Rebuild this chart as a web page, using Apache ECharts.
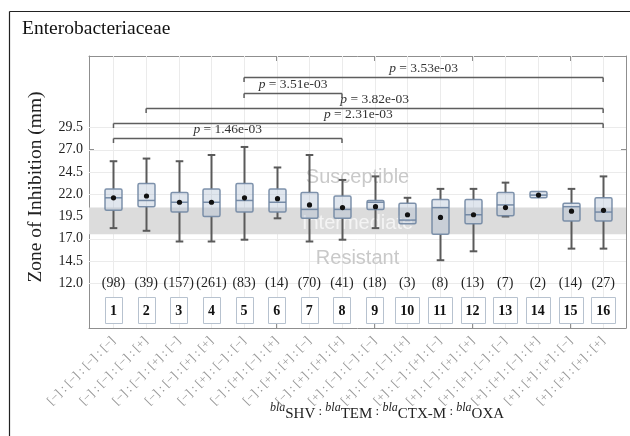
<!DOCTYPE html>
<html>
<head>
<meta charset="utf-8">
<script src="https://cdn.jsdelivr.net/npm/echarts@6/dist/echarts.min.js"></script>
<style>
  html, body { margin: 0; padding: 0; background: #fff; }
  #chart { width: 630px; height: 436px; }
</style>
</head>
<body>
<div id="chart"></div>
<script>
// Genotype groups (1..16) and their labels blaSHV : blaTEM : blaCTX-M : blaOXA
const categories = [1, 2, 3, 4, 5, 6, 7, 8, 9, 10, 11, 12, 13, 14, 15, 16];
const genotypes = [
  '[−] : [−] : [−] : [−]', '[−] : [−] : [−] : [+]', '[−] : [−] : [+] : [−]', '[−] : [−] : [+] : [+]',
  '[−] : [+] : [−] : [−]', '[−] : [+] : [−] : [+]', '[−] : [+] : [+] : [−]', '[−] : [+] : [+] : [+]',
  '[+] : [−] : [−] : [−]', '[+] : [−] : [−] : [+]', '[+] : [−] : [+] : [−]', '[+] : [−] : [+] : [+]',
  '[+] : [+] : [−] : [−]', '[+] : [+] : [−] : [+]', '[+] : [+] : [+] : [−]', '[+] : [+] : [+] : [+]'
];
const counts = [98, 39, 157, 261, 83, 14, 70, 41, 18, 3, 8, 13, 7, 2, 14, 27];

// Zone of inhibition (mm) summary per group
const whiskerLow  = [18.2, 17.9, 16.7, 16.7, 16.9, 19.3, 16.7, 16.9, 18.2, 18.7, 14.6, 15.6, 19.5, 21.6, 15.9, 15.9];
const quartile1   = [20.2, 20.6, 20.0, 19.5, 20.0, 20.0, 19.3, 19.3, 20.3, 18.7, 17.5, 18.7, 19.6, 21.6, 19.0, 19.0];
const medians     = [21.6, 21.3, 21.1, 21.1, 21.3, 21.1, 20.3, 20.3, 21.1, 19.1, 20.5, 19.7, 20.8, 21.9, 20.6, 20.0];
const quartile3   = [22.6, 23.2, 22.2, 22.6, 23.2, 22.6, 22.2, 21.8, 21.3, 21.0, 21.4, 21.4, 22.2, 22.3, 21.0, 21.6];
const whiskerHigh = [25.7, 26.0, 25.7, 26.4, 27.3, 25.0, 26.4, 23.6, 24.0, 21.6, 22.6, 22.6, 23.3, 22.3, 22.6, 24.0];
const means       = [21.6, 21.8, 21.1, 21.1, 21.6, 21.5, 20.8, 20.5, 20.6, 19.7, 19.4, 19.7, 20.5, 21.9, 20.1, 20.2];

const yTicks = [12.0, 14.5, 17.0, 19.5, 22.0, 24.5, 27.0, 29.5];

// Pairwise comparisons and their p-values
const comparisons = [[1, 8], [1, 16], [2, 16], [5, 8], [5, 16]];
const pValues = ['1.46e-03', '2.31e-03', '3.82e-03', '3.51e-03', '3.53e-03'];

// Intermediate breakpoint band (mm)
const intermediateBand = [17.5, 20.5];

const SERIF = '"Liberation Serif", "DejaVu Serif", serif';
const SANS = '"Liberation Sans", Arial, sans-serif';
const FRAME = '#8f8f8f';
const GRID = '#ebebeb';

const boxData = categories.map((c, i) => [c, whiskerLow[i], quartile1[i], medians[i], quartile3[i], whiskerHigh[i], means[i]]);
const countData = categories.map((c, i) => [c, counts[i]]);
const bracketData = comparisons.map((pair, i) => [pair[0], pair[1], i, pValues[i]]);

function renderBox(params, api) {
  const x = api.value(0);
  const low = api.coord([x, api.value(1)]);
  const q1 = api.coord([x, api.value(2)]);
  const med = api.coord([x, api.value(3)]);
  const q3 = api.coord([x, api.value(4)]);
  const high = api.coord([x, api.value(5)]);
  const mean = api.coord([x, api.value(6)]);
  const cx = Math.round(q1[0]) + 0.5;
  const halfW = 8.5, cap = 3.8;
  const wStyle = { stroke: '#5a5a5a', lineWidth: 2 };
  const children = [];
  if (high[1] < q3[1] - 0.5) {
    children.push({ type: 'line', shape: { x1: cx, y1: q3[1], x2: cx, y2: high[1] }, style: wStyle });
    children.push({ type: 'line', shape: { x1: cx - cap, y1: high[1], x2: cx + cap, y2: high[1] }, style: wStyle });
  }
  if (low[1] > q1[1] + 0.5) {
    children.push({ type: 'line', shape: { x1: cx, y1: q1[1], x2: cx, y2: low[1] }, style: wStyle });
    children.push({ type: 'line', shape: { x1: cx - cap, y1: low[1], x2: cx + cap, y2: low[1] }, style: wStyle });
  }
  children.push({
    type: 'rect',
    shape: { x: cx - halfW, y: q3[1], width: halfW * 2, height: q1[1] - q3[1], r: 1.5 },
    style: { fill: 'rgba(166,183,206,0.35)', stroke: 'rgba(112,134,162,0.9)', lineWidth: 1.5 }
  });
  children.push({
    type: 'line',
    shape: { x1: cx - halfW, y1: med[1], x2: cx + halfW, y2: med[1] },
    style: { stroke: 'rgba(112,134,162,0.95)', lineWidth: 1.5 }
  });
  children.push({ type: 'circle', shape: { cx: cx, cy: mean[1], r: 2.6 }, style: { fill: '#111' } });
  return { type: 'group', children: children };
}

function renderCounts(params, api) {
  const x = api.value(0);
  const n = api.value(1);
  const pc = api.coord([x, 12.0]);
  const pb = api.coord([x, 9.0]);
  const label = String(categories[params.dataIndex]);
  const w = label.length * 7 + 10;
  const h = 26;
  return {
    type: 'group',
    children: [
      { type: 'text', x: pc[0], y: pc[1], style: { text: '(' + n + ')', font: '14px ' + SERIF, fill: '#222', align: 'center', verticalAlign: 'middle' } },
      { type: 'rect', shape: { x: Math.round(pb[0] - w / 2) + 0.5, y: Math.round(pb[1] - h / 2) + 0.5, width: w, height: h }, style: { fill: '#fff', stroke: '#b7c2cf', lineWidth: 1 } },
      { type: 'text', x: pb[0], y: pb[1] + 1, style: { text: label, font: 'bold 14px ' + SERIF, fill: '#111', align: 'center', verticalAlign: 'middle' } }
    ]
  };
}

function renderBracket(params, api) {
  const a = api.value(0), b = api.value(1), level = api.value(2);
  const yv = 28.3 + 1.7 * level;
  const p1 = api.coord([a, yv]);
  const p2 = api.coord([b, yv]);
  const y = Math.round(p1[1]) + 0.5;
  const st = { stroke: '#5e5e5e', lineWidth: 1.5 };
  return {
    type: 'group',
    children: [
      { type: 'line', shape: { x1: p1[0], y1: y, x2: p2[0], y2: y }, style: st },
      { type: 'line', shape: { x1: p1[0], y1: y, x2: p1[0], y2: y + 4.5 }, style: st },
      { type: 'line', shape: { x1: p2[0], y1: y, x2: p2[0], y2: y + 4.5 }, style: st },
      {
        type: 'text', x: (p1[0] + p2[0]) / 2, y: y - 2,
        style: {
          text: '{i|p} = ' + pValues[params.dataIndex],
          font: '13.5px ' + SERIF, fill: '#333', align: 'center', verticalAlign: 'bottom',
          rich: { i: { fontStyle: 'italic', fontFamily: SERIF, fontSize: 13.5, fill: '#333' } }
        }
      }
    ]
  };
}

// Grid lines, the intermediate band and the zone captions, drawn under the boxes
function renderZones(params, api) {
  const cs = params.coordSys;
  const top = api.coord([1, intermediateBand[1]]);
  const bot = api.coord([1, intermediateBand[0]]);
  const cx = cs.x + cs.width / 2;
  const children = [];
  categories.forEach(c => {
    const px = Math.round(api.coord([c, 0])[0]) + 0.5;
    children.push({ type: 'line', shape: { x1: px, y1: cs.y, x2: px, y2: cs.y + cs.height }, style: { stroke: GRID, lineWidth: 1 } });
  });
  yTicks.forEach(t => {
    const py = Math.round(api.coord([1, t])[1]) + 0.5;
    children.push({ type: 'line', shape: { x1: cs.x, y1: py, x2: cs.x + cs.width, y2: py }, style: { stroke: GRID, lineWidth: 1 } });
  });
  children.push({ type: 'rect', shape: { x: cs.x, y: top[1], width: cs.width, height: bot[1] - top[1] }, style: { fill: '#dcdcdc' } });
  const zoneText = (txt, v, color) => ({
    type: 'text', x: cx, y: api.coord([1, v])[1],
    style: { text: txt, font: '20px ' + SANS, fill: color, align: 'center', verticalAlign: 'middle' }
  });
  children.push(zoneText('Susceptible', 23.9, '#c9c9c9'));
  children.push(zoneText('Intermediate', 18.75, '#f4f4f4'));
  children.push(zoneText('Resistant', 14.85, '#c9c9c9'));
  return { type: 'group', children: children };
}

const chart = echarts.init(document.getElementById('chart'), null, { renderer: 'canvas' });

chart.setOption({
  animation: false,
  backgroundColor: '#fff',
  grid: { left: 89, right: 4, top: 56, bottom: 108, containLabel: false },
  xAxis: [
    {
      type: 'value', position: 'bottom', min: 0.25, max: 16.7,
      axisLine: { show: true, lineStyle: { color: FRAME, width: 1 } },
      axisTick: { show: true, inside: true, length: 5, customValues: categories, lineStyle: { color: FRAME } },
      axisLabel: {
        show: true, customValues: categories, rotate: 45, margin: 11,
        formatter: v => genotypes[Math.round(v) - 1] || '',
        fontFamily: SERIF, fontSize: 12.5, color: '#999'
      },
      splitLine: { show: false }
    },
    {
      type: 'value', position: 'top', min: 0.25, max: 16.7,
      axisLine: { show: true, lineStyle: { color: FRAME, width: 1 } },
      axisTick: { show: true, inside: true, length: 5, customValues: categories, lineStyle: { color: FRAME } },
      axisLabel: { show: false },
      splitLine: { show: false }
    }
  ],
  yAxis: [
    {
      type: 'value', position: 'left', min: 7.0, max: 37.5,
      axisLine: { show: true, lineStyle: { color: FRAME, width: 1 } },
      axisTick: { show: true, inside: true, length: 5, customValues: yTicks, lineStyle: { color: FRAME } },
      axisLabel: {
        show: true, customValues: yTicks, margin: 6,
        formatter: v => Number(v).toFixed(1),
        fontFamily: SERIF, fontSize: 14, color: '#222'
      },
      splitLine: { show: false }
    },
    {
      type: 'value', position: 'right', min: 7.0, max: 37.5,
      axisLine: { show: true, lineStyle: { color: FRAME, width: 1 } },
      axisTick: { show: true, inside: true, length: 5, customValues: yTicks, lineStyle: { color: FRAME } },
      axisLabel: { show: false },
      splitLine: { show: false }
    }
  ],
  series: [
    { type: 'custom', name: 'zones', xAxisIndex: 0, yAxisIndex: 0, z: 1, silent: true, data: [[1, intermediateBand[0]]], renderItem: renderZones },
    { type: 'custom', name: 'brackets', xAxisIndex: 0, yAxisIndex: 0, z: 2, silent: true, data: bracketData, renderItem: renderBracket, encode: { x: [0, 1], y: 2 } },
    { type: 'custom', name: 'counts', xAxisIndex: 0, yAxisIndex: 0, z: 2, silent: true, data: countData, renderItem: renderCounts, encode: { x: 0 } },
    { type: 'custom', name: 'zone of inhibition', xAxisIndex: 0, yAxisIndex: 0, z: 3, silent: true, data: boxData, renderItem: renderBox, encode: { x: 0, y: [1, 2, 3, 4, 5] } }
  ],
  graphic: [
    { type: 'line', shape: { x1: 9.5, y1: 11.5, x2: 630, y2: 11.5 }, style: { stroke: '#222', lineWidth: 1.2 } },
    { type: 'line', shape: { x1: 9.5, y1: 11.5, x2: 9.5, y2: 436 }, style: { stroke: '#222', lineWidth: 1.2 } },
    { type: 'text', left: 22, top: 19, style: { text: 'Enterobacteriaceae', font: '19.5px ' + SERIF, fill: '#111' } },
    {
      type: 'text', x: 36, y: 187, rotation: Math.PI / 2,
      style: { text: 'Zone of Inhibition (mm)', font: '19.5px ' + SERIF, fill: '#222', align: 'center', verticalAlign: 'middle' }
    },
    {
      type: 'text', x: 387, y: 412,
      style: {
        text: '{b|bla}{g|SHV}{c| : }{b|bla}{g|TEM}{c| : }{b|bla}{g|CTX-M}{c| : }{b|bla}{g|OXA}',
        align: 'center', verticalAlign: 'middle',
        rich: {
          b: { fontFamily: SERIF, fontStyle: 'italic', fontSize: 12, fill: '#222', verticalAlign: 'top', lineHeight: 20 },
          g: { fontFamily: SERIF, fontSize: 15, fill: '#222', verticalAlign: 'bottom', lineHeight: 20 },
          c: { fontFamily: SERIF, fontSize: 13, fill: '#222', verticalAlign: 'middle', lineHeight: 20 }
        }
      }
    }
  ]
});
</script>
</body>
</html>
